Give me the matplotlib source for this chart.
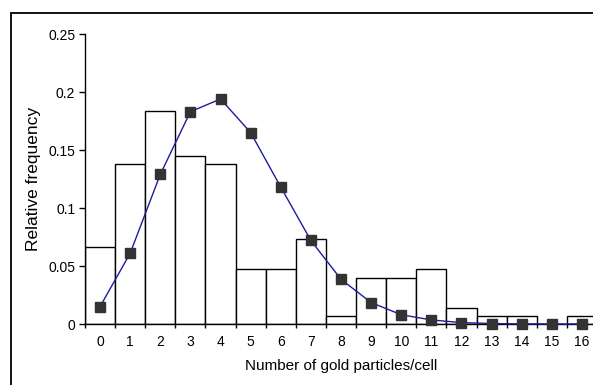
import matplotlib.pyplot as plt
import numpy as np
from matplotlib.patches import Rectangle

plt.rcParams['font.family'] = ['Liberation Sans', 'DejaVu Sans']

categories = list(range(17))
observed = [0.066, 0.138, 0.184, 0.145, 0.138, 0.047, 0.047, 0.073, 0.007,
            0.040, 0.040, 0.047, 0.014, 0.007, 0.007, 0.0, 0.007]
expected = [0.015, 0.061, 0.129, 0.183, 0.194, 0.165, 0.118, 0.072, 0.0385,
            0.0185, 0.008, 0.0035, 0.0012, 0.0004, 0.0001, 0.0, 0.0]

fig = plt.figure(figsize=(5.93, 3.85), dpi=100)
ax = fig.add_axes([85 / 593, 61 / 385, 512 / 593, 290 / 385])

x = np.array(categories)
ax.bar(x, observed, width=1.0, color='white', edgecolor='black', linewidth=1.0, zorder=2)
ax.plot(x, expected, color='#1c1c9c', linewidth=1.0, marker='s', markersize=7.5,
        markerfacecolor='#333333', markeredgecolor='#333333', zorder=3, clip_on=False)

ax.set_xlim(-0.5, 16.5)
ax.set_ylim(0, 0.25)
ax.set_yticks([0, 0.05, 0.1, 0.15, 0.2, 0.25])
ax.set_yticklabels(['0', '0.05', '0.1', '0.15', '0.2', '0.25'])
ax.set_xticks(x)
ax.set_xticklabels([str(c) for c in categories])
ax.set_xticks(np.arange(-0.5, 17, 1.0), minor=True)
ax.tick_params(axis='x', which='major', length=0, pad=8, labelsize=10)
ax.tick_params(axis='x', which='minor', length=3, width=1, direction='out')
ax.tick_params(axis='y', length=4, width=1, pad=3, labelsize=10)

for s in ['top', 'right']:
    ax.spines[s].set_visible(False)
ax.spines['left'].set_linewidth(1.0)
ax.spines['bottom'].set_linewidth(1.0)

ax.set_xlabel('Number of gold particles/cell', fontsize=11, labelpad=7)
ax.set_ylabel('Relative frequency', fontsize=12.5, labelpad=5)

# outer frame
fig.add_artist(Rectangle((11 / 593, -0.1), 1.2, 1 - 13.5 / 385 + 0.1,
                         transform=fig.transFigure, fill=False,
                         edgecolor='black', linewidth=1.3, clip_on=False))

fig.savefig('out.png', dpi=100)
